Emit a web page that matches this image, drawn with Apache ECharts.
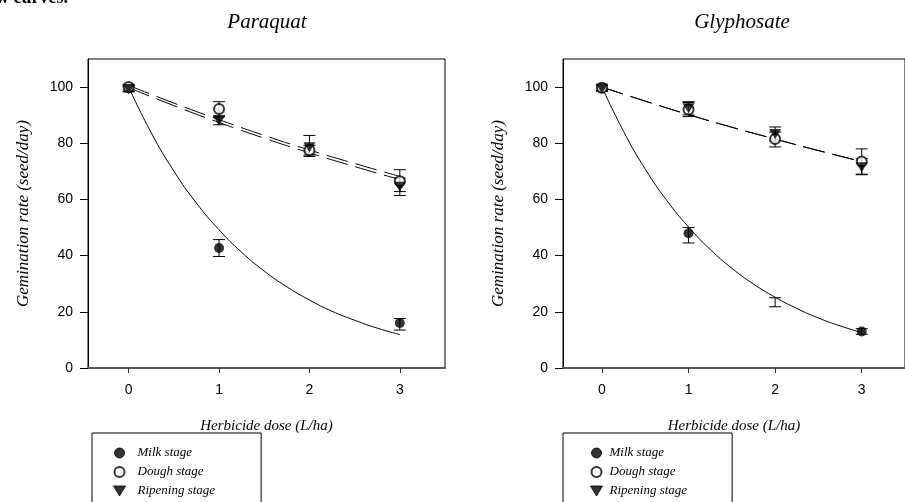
<!DOCTYPE html>
<html><head><meta charset="utf-8">
<script src="https://cdn.jsdelivr.net/npm/echarts@6/dist/echarts.min.js"></script>
<style>html,body{margin:0;padding:0;background:#fff}#c{width:905px;height:502px}</style>
</head><body><div id="c"></div>
<script>
// ---------- data ----------
const doses = [0, 1, 2, 3];
const xTicks = [0, 1, 2, 3];
const yTicks = [0, 20, 40, 60, 80, 100];
const panelTitles = ['Paraquat', 'Glyphosate'];
const stageNames = ['Milk stage', 'Dough stage', 'Ripening stage'];

// Paraquat observed means and error bar limits (null = no marker)
const pqMilkMean  = [99.5, 42.7, null, 16.0];
const pqMilkLow   = [98.4, 39.7, null, 13.5];
const pqMilkHigh  = [100.6, 45.7, null, 17.6];
const pqDoughMean = [100.0, 92.2, 77.5, 66.5];
const pqDoughLow  = [99.0, 89.8, 75.8, 62.8];
const pqDoughHigh = [101.0, 94.8, 79.3, 70.6];
const pqRipMean   = [99.3, 88.0, 78.6, 64.5];
const pqRipLow    = [98.3, 86.6, 75.3, 61.4];
const pqRipHigh   = [100.3, 89.4, 82.8, 67.6];

// Glyphosate observed means and error bar limits
const glMilkMean  = [99.5, 48.0, null, 13.0];
const glMilkLow   = [98.5, 44.5, 21.8, 12.0];
const glMilkHigh  = [100.5, 50.0, 25.0, 14.0];
const glDoughMean = [99.8, 92.0, 81.5, 73.5];
const glDoughLow  = [98.8, 89.5, 78.7, 69.0];
const glDoughHigh = [100.8, 94.5, 84.0, 78.0];
const glRipMean   = [99.5, 92.5, 83.3, 71.5];
const glRipLow    = [98.5, 90.1, 80.8, 68.8];
const glRipHigh   = [100.5, 94.8, 85.8, 74.5];

// fitted curves
const fitXSolid = [0, 0.25, 0.5, 0.75, 1, 1.25, 1.5, 1.75, 2, 2.25, 2.5, 2.75, 3];
const pqMilkFit = [100, 83.7, 70.1, 58.7, 49.2, 41.2, 34.5, 28.9, 24.2, 20.2, 17.0, 14.2, 11.9];
const glMilkFit = [100, 84.2, 70.8, 59.6, 50.2, 42.2, 35.5, 29.9, 25.2, 21.2, 17.8, 15.0, 12.6];
const fitXDash  = [0, 0.5, 1, 1.5, 2, 2.5, 3];
const pqDoughFit = [100.6, 94.3, 88.4, 82.8, 77.6, 72.8, 68.2];
const pqRipFit   = [99.8, 93.4, 87.4, 81.8, 76.6, 71.7, 67.1];
const glDoughFit = [100.0, 95.0, 90.2, 85.7, 81.5, 77.4, 73.5];
const glRipFit   = [100.0, 95.0, 90.2, 85.7, 81.5, 77.4, 73.5];

// ---------- chart ----------
const serif = "'Liberation Serif','Times New Roman',serif";
const sans = "'Liberation Sans',Arial,sans-serif";
const chart = echarts.init(document.getElementById('c'), null, {renderer: 'canvas'});

const pts = (mean) => doses.map((d, i) => mean[i] == null ? null : [d, mean[i]]).filter(Boolean);
const errs = (lo, hi) => doses.map((d, i) => lo[i] == null ? null : [d, lo[i], hi[i]]).filter(Boolean);
const curve = (xs, ys) => xs.map((x, i) => [x, ys[i]]);

function errRender(params, api) {
  const x = api.value(0), lo = api.value(1), hi = api.value(2);
  const a = api.coord([x, lo]), b = api.coord([x, hi]);
  const hw = 6;
  const style = {stroke: '#000', lineWidth: 1, fill: null};
  return {type: 'group', children: [
    {type: 'line', shape: {x1: a[0], y1: a[1], x2: b[0], y2: b[1]}, style},
    {type: 'line', shape: {x1: a[0] - hw, y1: a[1], x2: a[0] + hw, y2: a[1]}, style},
    {type: 'line', shape: {x1: b[0] - hw, y1: b[1], x2: b[0] + hw, y2: b[1]}, style}
  ]};
}

const grids = [
  {left: 88, top: 59, width: 357, height: 309},
  {left: 563, top: 59, width: 357, height: 309}
];

function xAx(i) {
  return {
    gridIndex: i, type: 'value', min: -0.45, max: 3.5,
    axisLine: {show: true, onZero: false, lineStyle: {color: '#555', width: 2}},
    axisTick: {show: true, customValues: xTicks, length: 5, lineStyle: {color: '#333'}},
    axisLabel: {customValues: xTicks, margin: 15, fontSize: 14, fontFamily: sans, color: '#000'},
    splitLine: {show: false},
    name: 'Herbicide dose (L/ha)', nameLocation: 'middle', nameGap: 51,
    nameTextStyle: {fontStyle: 'italic', fontFamily: serif, fontSize: 15, color: '#000'}
  };
}
function yAx(i) {
  return {
    gridIndex: i, type: 'value', min: 0, max: 110,
    axisLine: {show: true, onZero: false, lineStyle: {color: '#000', width: 1}},
    axisTick: {show: true, customValues: yTicks, length: 8, lineStyle: {color: '#000'}},
    axisLabel: {customValues: yTicks, margin: 15, fontSize: 14, fontFamily: sans, color: '#000'},
    splitLine: {show: false},
    name: 'Gemination rate (seed/day)', nameLocation: 'middle', nameGap: 56, nameRotate: 90,
    nameTextStyle: {fontStyle: 'italic', fontFamily: serif, fontSize: 17, color: '#000'}
  };
}

function panelSeries(i, d) {
  const s = [];
  s.push({type: 'line', name: 'fit-milk-' + i, xAxisIndex: i, yAxisIndex: i, data: curve(fitXSolid, d.milkFit),
    smooth: true, showSymbol: false, symbol: 'none', lineStyle: {color: '#000', width: 1}, z: 2, silent: true});
  s.push({type: 'line', name: 'fit-dough-' + i, xAxisIndex: i, yAxisIndex: i, data: curve(fitXDash, d.doughFit),
    smooth: true, showSymbol: false, symbol: 'none', lineStyle: {color: '#000', width: 1, type: [22, 8]}, z: 2, silent: true});
  s.push({type: 'line', name: 'fit-rip-' + i, xAxisIndex: i, yAxisIndex: i, data: curve(fitXDash, d.ripFit),
    smooth: true, showSymbol: false, symbol: 'none', lineStyle: {color: '#000', width: 1, type: [22, 8]}, z: 2, silent: true});
  [['milk', d.milkLow, d.milkHigh], ['dough', d.doughLow, d.doughHigh], ['rip', d.ripLow, d.ripHigh]].forEach(([k, lo, hi]) => {
    s.push({type: 'custom', name: 'err-' + k + '-' + i, xAxisIndex: i, yAxisIndex: i, data: errs(lo, hi),
      renderItem: errRender, encode: {x: 0, y: [1, 2]}, z: 3, silent: true});
  });
  s.push({type: 'scatter', name: stageNames[0], xAxisIndex: i, yAxisIndex: i, data: pts(d.milkMean),
    symbol: 'circle', symbolSize: 10, itemStyle: {color: '#000'}, z: 4});
  s.push({type: 'scatter', name: stageNames[1], xAxisIndex: i, yAxisIndex: i, data: pts(d.doughMean),
    symbol: 'emptyCircle', symbolSize: 10, itemStyle: {color: '#000', borderColor: '#000', borderWidth: 1}, z: 4});
  s.push({type: 'scatter', name: stageNames[2], xAxisIndex: i, yAxisIndex: i, data: pts(d.ripMean),
    symbol: 'triangle', symbolRotate: 180, symbolSize: [12, 10], itemStyle: {color: '#000'}, z: 4});
  return s;
}

const series = [].concat(
  panelSeries(0, {milkFit: pqMilkFit, doughFit: pqDoughFit, ripFit: pqRipFit,
    milkMean: pqMilkMean, milkLow: pqMilkLow, milkHigh: pqMilkHigh,
    doughMean: pqDoughMean, doughLow: pqDoughLow, doughHigh: pqDoughHigh,
    ripMean: pqRipMean, ripLow: pqRipLow, ripHigh: pqRipHigh}),
  panelSeries(1, {milkFit: glMilkFit, doughFit: glDoughFit, ripFit: glRipFit,
    milkMean: glMilkMean, milkLow: glMilkLow, milkHigh: glMilkHigh,
    doughMean: glDoughMean, doughLow: glDoughLow, doughHigh: glDoughHigh,
    ripMean: glRipMean, ripLow: glRipLow, ripHigh: glRipHigh})
);

const legendIcons = ['circle', 'emptyCircle', 'path://M0,0L12,0L6,10Z'];
function leg(left, padLeft, itemW, padRight) {
  return {
    left: left, top: 433, height: 200, orient: 'vertical',
    data: stageNames.map((n, k) => ({name: n, icon: legendIcons[k]})),
    itemWidth: itemW, itemHeight: 10, itemGap: 5, selectedMode: false,
    itemStyle: {color: '#000', borderColor: '#000', borderWidth: 1},
    borderColor: '#000', borderWidth: 1, padding: [13, padRight, 20, padLeft],
    textStyle: {fontFamily: serif, fontStyle: 'italic', fontSize: 13, color: '#000', lineHeight: 14}
  };
}

chart.setOption({
  animation: false,
  backgroundColor: '#fff',
  grid: grids.map(g => Object.assign({show: true, borderColor: '#000', borderWidth: 1, backgroundColor: 'transparent'}, g)),
  xAxis: [xAx(0), xAx(1)],
  yAxis: [yAx(0), yAx(1)],
  legend: [leg(92, 21, 26, 46), leg(563, 27, 16, 45)],
  graphic: [
    {type: 'text', x: 267, y: 22, style: {text: panelTitles[0], textAlign: 'center', textVerticalAlign: 'middle',
      font: "italic 21px 'Liberation Serif','Times New Roman',serif", fill: '#000'}},
    {type: 'text', x: 742, y: 22, style: {text: panelTitles[1], textAlign: 'center', textVerticalAlign: 'middle',
      font: "italic 21px 'Liberation Serif','Times New Roman',serif", fill: '#000'}},
    {type: 'text', x: -4, y: -11, style: {text: 'w curves.', textAlign: 'left', textVerticalAlign: 'top',
      font: "bold 18px 'Liberation Serif','Times New Roman',serif", fill: '#000'}}
  ],
  series: series
});
</script></body></html>
